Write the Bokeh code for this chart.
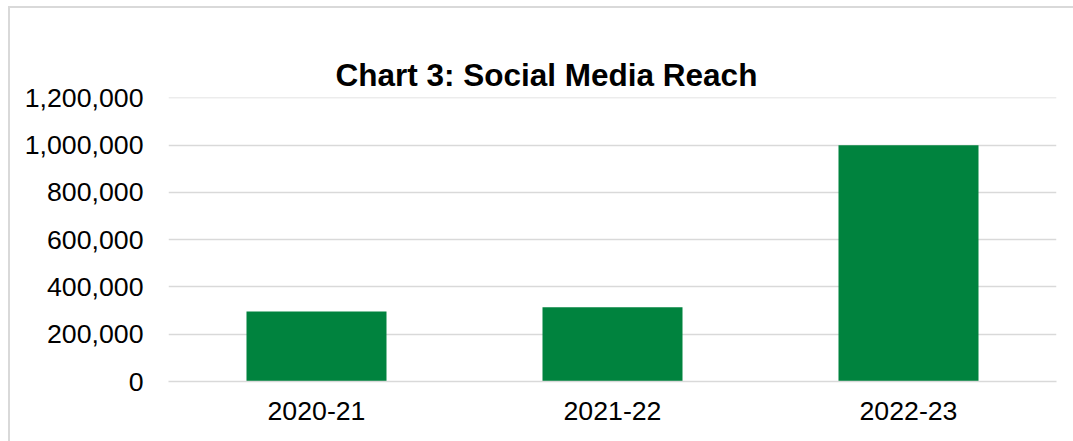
from bokeh.plotting import figure
from bokeh.models import FactorRange, Range1d, FixedTicker, NumeralTickFormatter, Title
from bokeh.embed import file_html
from bokeh.resources import INLINE

categories = ["2020-21", "2021-22", "2022-23"]
reach = [296000, 314000, 1000000]
y_ticks = [0, 200000, 400000, 600000, 800000, 1000000, 1200000]
title_text = "Chart 3: Social Media Reach"

FONT = "Liberation Sans"
GRID = "#d9d9d9"

p = figure(
    x_range=FactorRange(*categories, range_padding=0),
    y_range=Range1d(0, 1201500),
    width=1073, height=441,
    output_backend="svg", toolbar_location=None,
    min_border_left=168, min_border_right=17,
    min_border_top=97, min_border_bottom=60,
    title=None,
)

# transparent canvas so the host background (outer chart border) shows through
p.border_fill_color = None
p.background_fill_color = None
p.styles = {
    "background": (
        "linear-gradient(#d9d9d9, #d9d9d9) 8px 6px / 2px 100% no-repeat, "
        "linear-gradient(#d9d9d9, #d9d9d9) 8px 6px / 100% 2px no-repeat, #ffffff"
    )
}

# blank spacer panel between the frame and the title (first "above" item sits next to the frame)
p.add_layout(Title(text=" ", text_font_size="10px", text_alpha=0, standoff=13), "above")
p.add_layout(Title(text=title_text, align="left", offset=167, standoff=10,
                   text_font_size="31.5px", text_font=FONT,
                   text_font_style="bold", text_color="#000000"), "above")

p.vbar(x=categories, top=reach, width=0.473, color="#00833E", line_color=None)

p.outline_line_color = None
p.xgrid.grid_line_color = None
p.ygrid.grid_line_color = GRID
p.ygrid.grid_line_width = 1.3
p.ygrid.ticker = FixedTicker(ticks=y_ticks)

p.yaxis.ticker = FixedTicker(ticks=y_ticks)
p.yaxis.formatter = NumeralTickFormatter(format="0,0")
p.yaxis.axis_line_color = None
p.yaxis.major_tick_line_color = None
p.yaxis.minor_tick_line_color = None
p.yaxis.major_tick_out = 0
p.yaxis.major_label_standoff = 25
p.yaxis.major_label_text_font = FONT
p.yaxis.major_label_text_font_size = "26.7px"
p.yaxis.major_label_text_color = "#000000"

p.xaxis.axis_line_color = GRID
p.xaxis.axis_line_width = 1.3
p.xaxis.major_tick_line_color = None
p.xaxis.major_tick_out = 0
p.xaxis.major_label_standoff = 20
p.xaxis.major_label_text_font = FONT
p.xaxis.major_label_text_font_size = "26.7px"
p.xaxis.major_label_text_color = "#000000"

open("out.html", "w").write(file_html(p, INLINE))
